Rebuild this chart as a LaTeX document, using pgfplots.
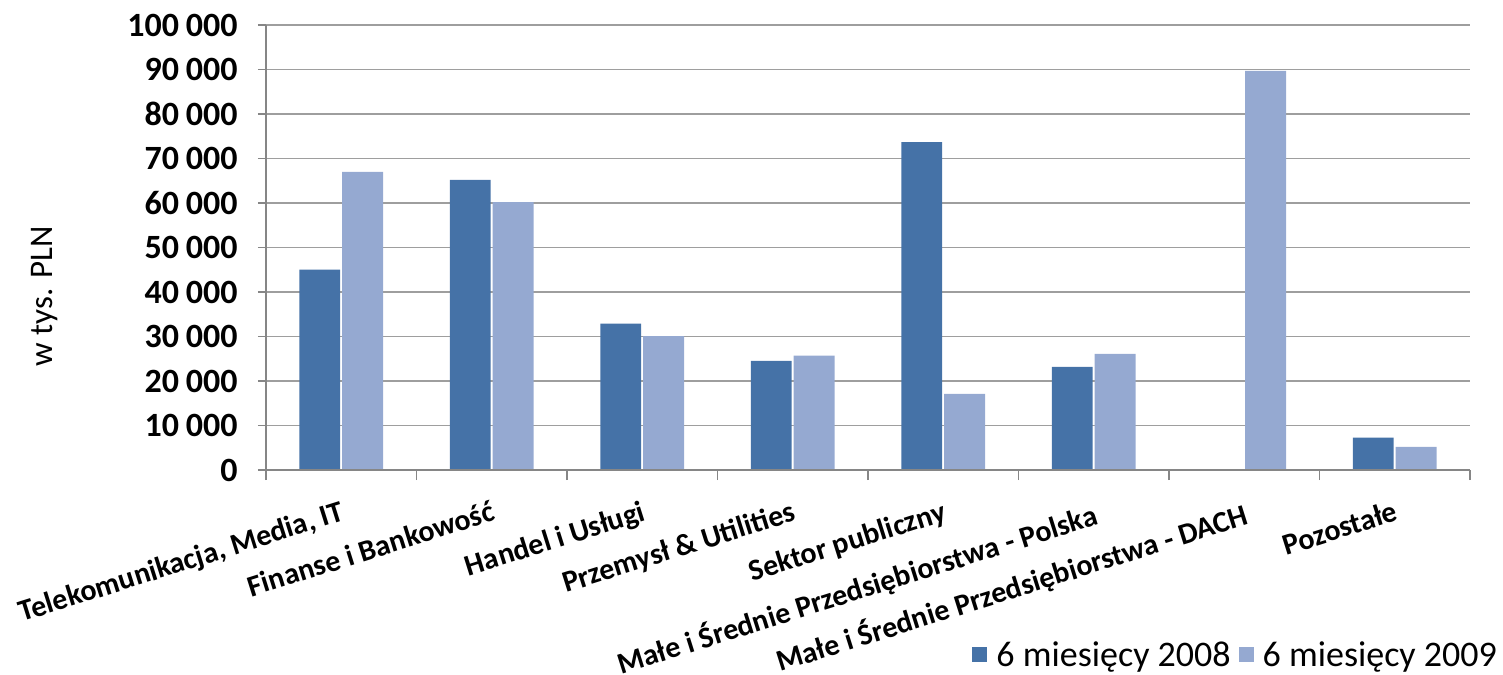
\documentclass[border=0pt]{standalone}
\usepackage{pgfplots}
\pgfplotsset{compat=1.18}
\usepackage{fontspec}
\setmainfont{Carlito}
\usetikzlibrary{calc}
\definecolor{dark}{RGB}{69,114,167}
\definecolor{light}{RGB}{149,169,209}
\definecolor{gridc}{RGB}{158,158,158}
\definecolor{axc}{RGB}{134,134,134}
\begin{document}
\begin{tikzpicture}
\begin{axis}[
  name=ax,
  scale only axis, width=602pt, height=222.5pt,
  xmin=-0.5, xmax=7.5, ymin=0, ymax=100000,
  axis x line*=bottom, axis y line*=left,
  axis line style={axc, line width=0.8pt},
  ytick={0,10000,...,100000},
  scaled y ticks=false,
  /pgf/number format/.cd, fixed, precision=0, 1000 sep={\hspace{0.2em}}, assume math mode=true,
  /pgfplots/.cd,
  ymajorgrids, grid style={gridc, line width=0.8pt},
  xtick={0,...,7},
  xticklabels={{Telekomunikacja, Media, IT},{Finanse i Bankowość},{Handel i Usługi},{Przemysł \& Utilities},{Sektor publiczny},{Małe i Średnie Przedsiębiorstwa - Polska},{Małe i Średnie Przedsiębiorstwa - DACH},{Pozostałe}},
  major x tick style={draw=none},
  minor xtick={-0.5,0.5,...,7.5},
  minor x tick style={axc, line width=0.8pt},
  y tick style={axc, line width=0.8pt},
  tick align=outside, major tick length=4pt, minor tick length=5pt,
  xticklabel style={font=\bfseries\fontsize{15}{17}\selectfont, rotate=17.5, anchor=north east, inner sep=0pt, yshift=-10pt, xshift=-4pt},
  yticklabel style={font=\bfseries\fontsize{17}{20}\selectfont, inner sep=0pt, xshift=-10pt},
  ylabel={w tys. PLN},
  ylabel style={at={(axis description cs:-0.184,0.39)}, anchor=center, font=\fontsize{16.5}{20}\selectfont},
  ybar=1pt, bar width=0.272,
  legend columns=2,
  legend style={draw=none, fill=none, inner sep=0pt, at={(axis description cs:1.026,-0.416)}, anchor=east, font=\fontsize{18}{20}\selectfont, nodes={inner sep=2pt}, /tikz/every even column/.append style={column sep=2pt}},
  legend image code/.code={\fill[#1, draw=none] (0pt,-3.5pt) rectangle (7.5pt,4pt); \path (10pt,0pt);},
]
\addplot[fill=dark, draw=none] coordinates {(0,45000) (1,65200) (2,32900) (3,24500) (4,73700) (5,23200) (7,7300)};
\addplot[fill=light, draw=none] coordinates {(0,67000) (1,60200) (2,30100) (3,25700) (4,17100) (5,26100) (6,89700) (7,5200)};
\legend{6 miesięcy 2008, 6 miesięcy 2009}
\draw[axc, line width=0.8pt] (rel axis cs:0,0) -- (rel axis cs:1,0);
\end{axis}
\pgfresetboundingbox
\path[use as bounding box] ($(ax.south west)+(-133pt,-102pt)$) rectangle ++(751.5pt,337pt);
\end{tikzpicture}
\end{document}
